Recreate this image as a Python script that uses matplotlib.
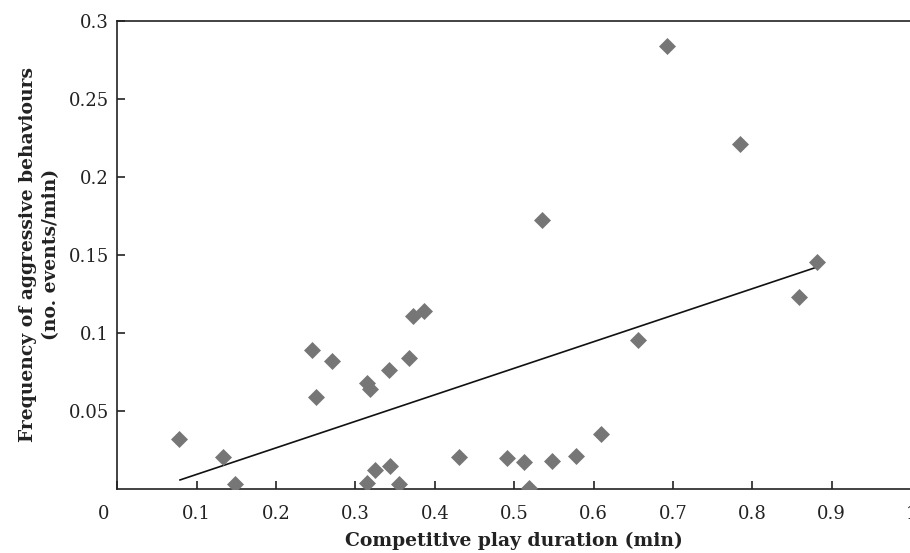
import matplotlib
matplotlib.use("Agg")
import matplotlib.pyplot as plt
import matplotlib.transforms as mtransforms

# data
play_dur = [0.078, 0.133, 0.148, 0.245, 0.250, 0.271, 0.314, 0.318, 0.314, 0.325,
            0.342, 0.343, 0.355, 0.368, 0.373, 0.386, 0.430, 0.491, 0.512, 0.519,
            0.535, 0.548, 0.578, 0.609, 0.656, 0.693, 0.784, 0.859, 0.882]
aggr_freq = [0.032, 0.020, 0.003, 0.089, 0.059, 0.082, 0.068, 0.064, 0.0035, 0.012,
             0.076, 0.0146, 0.003, 0.084, 0.111, 0.114, 0.0205, 0.0195, 0.017, 0.0002,
             0.172, 0.018, 0.021, 0.035, 0.095, 0.284, 0.221, 0.123, 0.145]

# regression line ends
fit_x = [0.079, 0.883]
fit_y = [0.0056, 0.1423]

xticks = [0, 0.1, 0.2, 0.3, 0.4, 0.5, 0.6, 0.7, 0.8, 0.9, 1]
xticklabels = ['', '0.1', '0.2', '0.3', '0.4', '0.5', '0.6', '0.7', '0.8', '0.9', '1']
yticks = [0.05, 0.1, 0.15, 0.2, 0.25, 0.3]
yticklabels = ['0.05', '0.1', '0.15', '0.2', '0.25', '0.3']

plt.rcParams['font.family'] = ['DejaVu Serif']

fig = plt.figure(figsize=(9.1, 5.53), dpi=100)
ax = fig.add_axes([0.1289, 0.1163, 0.8722, 0.8463])

ax.scatter(play_dur, aggr_freq, marker='D', s=75, color='#767676', linewidths=0, zorder=3)
ax.plot(fit_x, fit_y, color='#111111', lw=1.2)

ax.set_xlim(0, 1)
ax.set_ylim(0, 0.3)
ax.set_xticks(xticks)
ax.set_xticklabels(xticklabels)
ax.set_yticks(yticks)
ax.set_yticklabels(yticklabels)
ax.tick_params(direction='in', length=6, width=1.2, labelsize=13, colors='#222222')
ax.tick_params(axis='x', pad=12)
ax.tick_params(axis='y', pad=6)

# the "0" label sits left of the corner
off = mtransforms.ScaledTranslation(-14 / 100, 0, fig.dpi_scale_trans)
ax.text(0, -0.035, '0', transform=mtransforms.blended_transform_factory(ax.transData, ax.transAxes) + off,
        ha='center', va='top', fontsize=13, color='#222222')

for side in ['left', 'bottom', 'top']:
    ax.spines[side].set_linewidth(1.2)
    ax.spines[side].set_color('#222222')
ax.spines['right'].set_visible(False)

ax.set_xlabel('Competitive play duration (min)', fontsize=13.5, fontweight='bold', labelpad=6,
              color='#222222')
ax.set_ylabel('Frequency of aggressive behaviours\n(no. events/min)', fontsize=13.5,
              fontweight='bold', labelpad=6, linespacing=1.35, color='#222222')

fig.savefig('out.png', dpi=100)
